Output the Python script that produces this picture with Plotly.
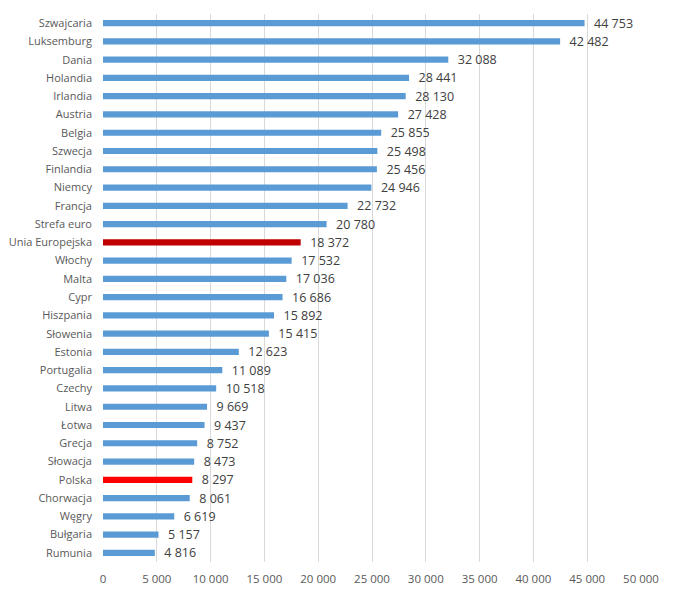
import plotly.graph_objects as go

countries = ["Szwajcaria", "Luksemburg", "Dania", "Holandia", "Irlandia", "Austria",
             "Belgia", "Szwecja", "Finlandia", "Niemcy", "Francja", "Strefa euro",
             "Unia Europejska", "Włochy", "Malta", "Cypr", "Hiszpania", "Słowenia",
             "Estonia", "Portugalia", "Czechy", "Litwa", "Łotwa", "Grecja", "Słowacja",
             "Polska", "Chorwacja", "Węgry", "Bułgaria", "Rumunia"]
values = [44753, 42482, 32088, 28441, 28130, 27428, 25855, 25498, 25456, 24946,
          22732, 20780, 18372, 17532, 17036, 16686, 15892, 15415, 12623, 11089,
          10518, 9669, 9437, 8752, 8473, 8297, 8061, 6619, 5157, 4816]
tick_vals = [0, 5000, 10000, 15000, 20000, 25000, 30000, 35000, 40000, 45000, 50000]

def fmt(v):
    return f"{v:,}".replace(",", " ")

colors = []
for c in countries:
    if c == "Unia Europejska":
        colors.append("#C00000")
    elif c == "Polska":
        colors.append("#FF0000")
    else:
        colors.append("#5B9BD5")

fig = go.Figure(go.Bar(
    y=countries, x=values, orientation="h",
    marker=dict(color=colors, line=dict(width=0)),
    text=["\u00a0\u00a0" + fmt(v) for v in values], textposition="outside",
    constraintext="none",
    textfont=dict(color="#404040", size=12.5, family="Open Sans"),
    cliponaxis=False,
))

fig.update_layout(
    width=667, height=590,
    margin=dict(l=95, r=34, t=6, b=36),
    paper_bgcolor="white", plot_bgcolor="white",
    bargap=0.66,
    showlegend=False,
    font=dict(family="Open Sans", size=11, color="#595959"),
    xaxis=dict(range=[0, 50000], tickvals=tick_vals, ticktext=[fmt(t) for t in tick_vals],
               showgrid=True, gridcolor="#D9D9D9", gridwidth=1, zeroline=False,
               showline=False, ticks="", automargin=False, ticklabelstandoff=8,
               tickfont=dict(size=11.5, color="#595959")),
    yaxis=dict(autorange="reversed", showgrid=False, zeroline=False, showline=False,
               ticks="", ticklabelstandoff=10, automargin=False,
               tickfont=dict(size=11, color="#595959")),
)

fig.write_html("out.html")
